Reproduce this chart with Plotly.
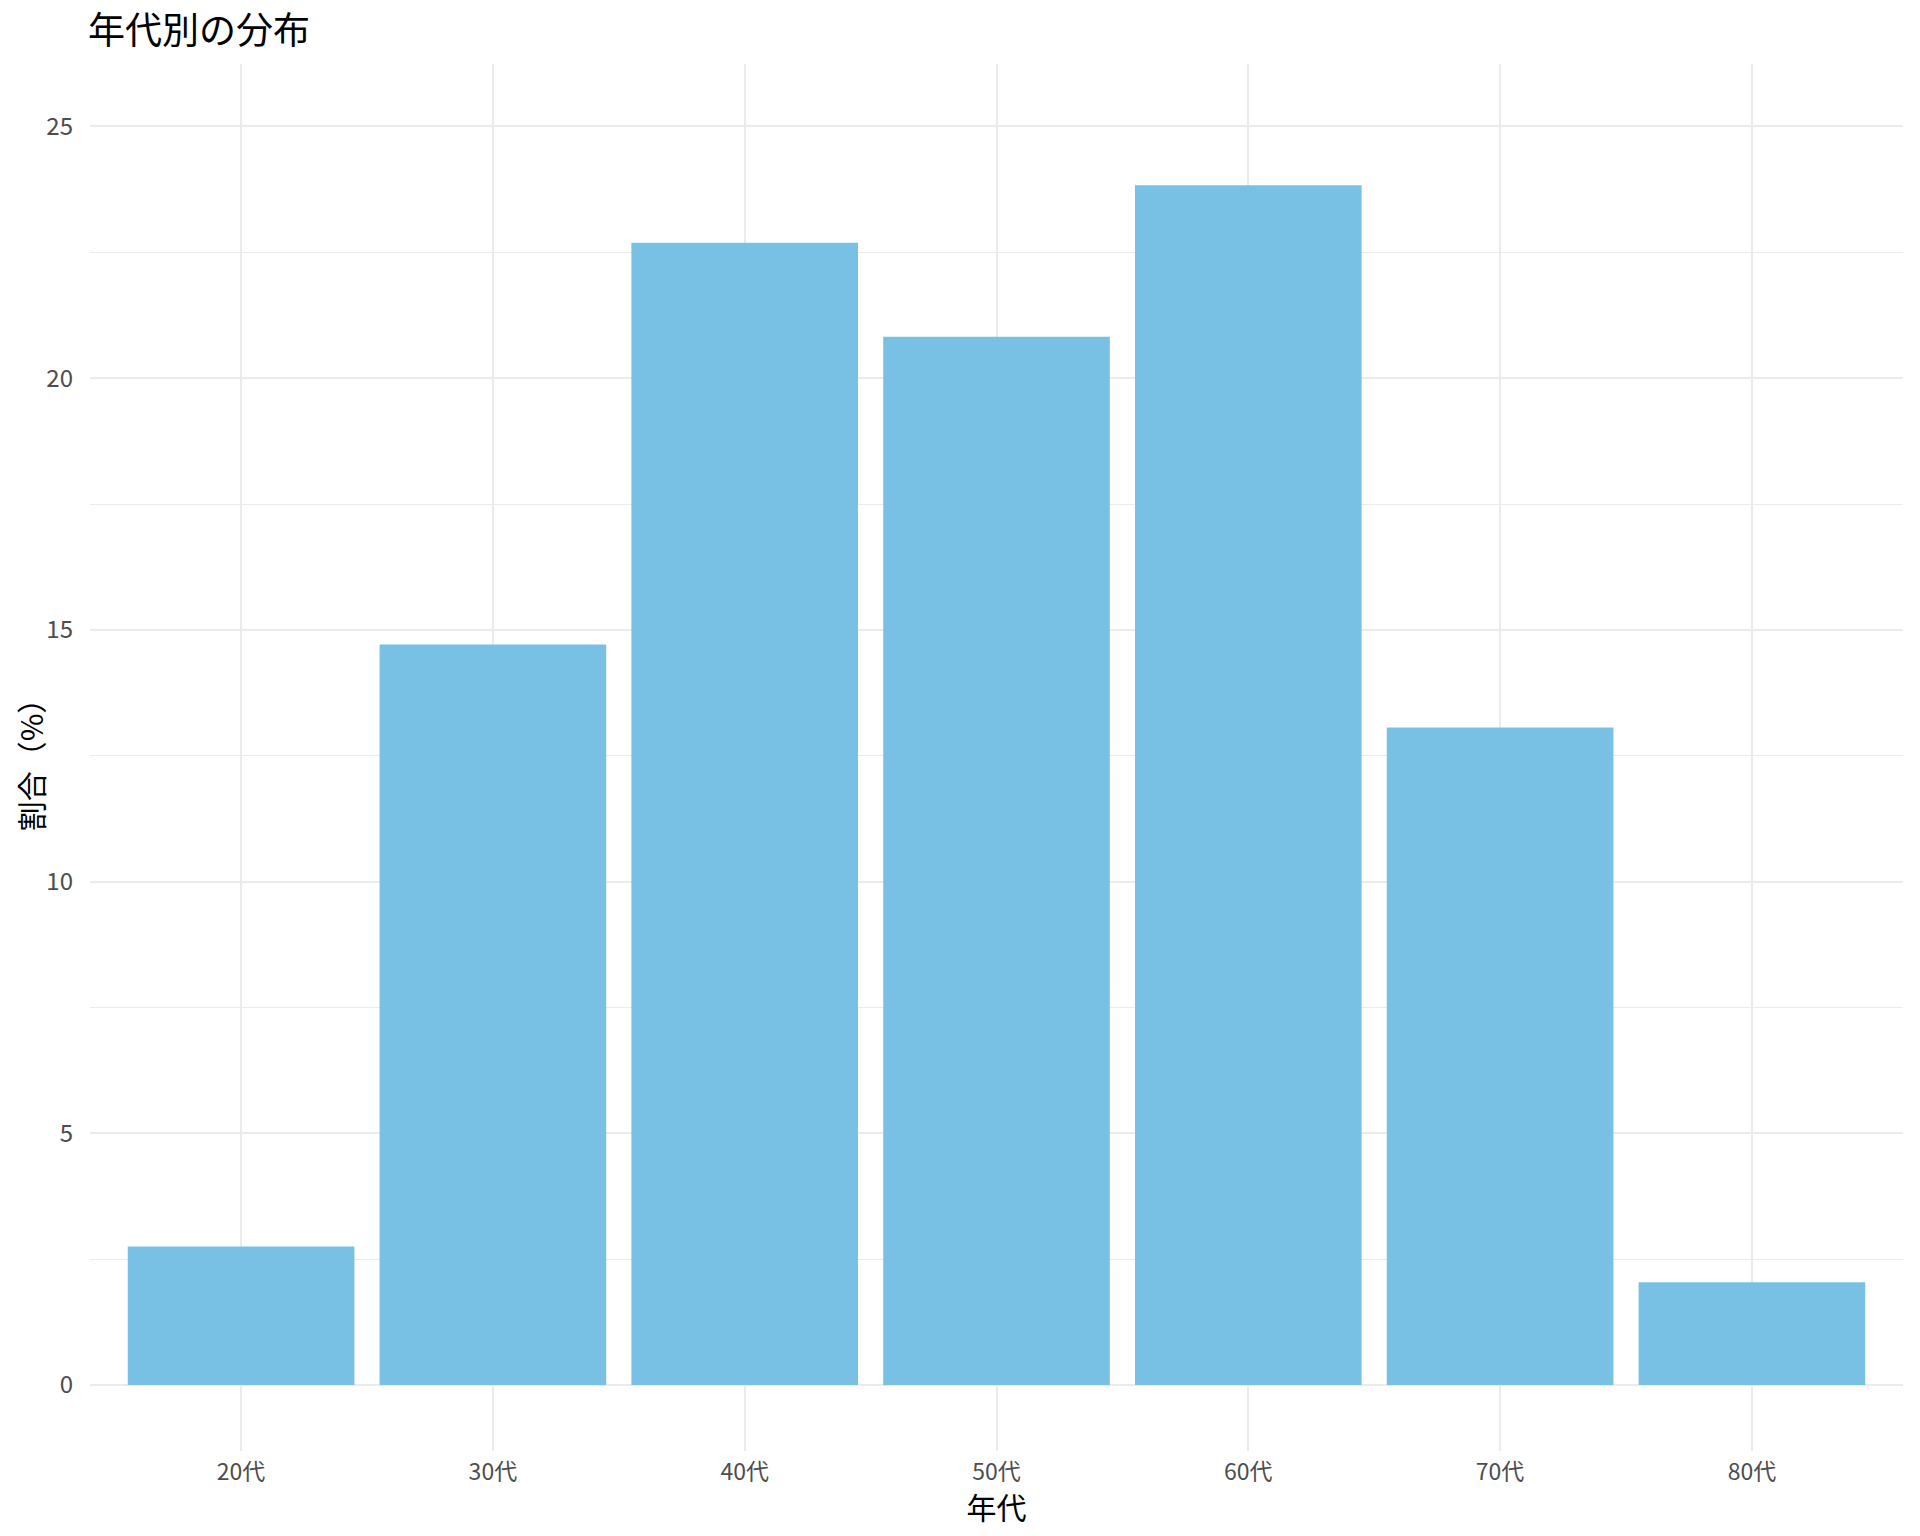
import plotly.graph_objects as go

categories = ["20代", "30代", "40代", "50代", "60代", "70代", "80代"]
values = [2.75, 14.71, 22.69, 20.82, 23.83, 13.06, 2.04]
y_ticks = [0, 5, 10, 15, 20, 25]

FONT = "Noto Sans CJK JP"

# the page body has an 8px margin, so the figure is drawn 8px lower/right
W, H = 1904, 1520

fig = go.Figure()
fig.add_trace(go.Bar(
    x=categories, y=values,
    marker=dict(color="#78C1E4", line=dict(width=0)),
    width=0.9,
))

fig.update_layout(
    width=W, height=H,
    paper_bgcolor="white", plot_bgcolor="white",
    margin=dict(l=80, r=9, t=56, b=77),
    showlegend=False,
    font=dict(family=FONT, color="#000000"),
    title=dict(text="年代別の分布", x=80/W, xanchor="left",
               y=1-23/H, yanchor="middle",
               font=dict(family=FONT, size=37, color="#000000")),
    bargap=0.1,
)
fig.update_xaxes(
    type="category", range=[-0.6, 6.6],
    showgrid=True, gridcolor="#EBEBEB", gridwidth=2,
    showline=False, zeroline=False, ticks="",
    tickfont=dict(family=FONT, size=23, color="#4D4D4D"),
    ticklabelstandoff=5,
    title=dict(text="年代", font=dict(family=FONT, size=30, color="#000000"), standoff=3),
)
fig.update_yaxes(
    range=[-1.31, 26.24],
    tickvals=y_ticks, ticktext=[str(v) for v in y_ticks],
    showgrid=True, gridcolor="#EBEBEB", gridwidth=2,
    minor=dict(tick0=2.5, dtick=5, showgrid=True, gridcolor="#EBEBEB", gridwidth=1),
    showline=False, zeroline=False, ticks="",
    tickfont=dict(family=FONT, size=24, color="#4D4D4D"),
    ticklabelstandoff=16,
    title=dict(text="割合（%）", font=dict(family=FONT, size=30, color="#000000"), standoff=8),
)

fig.write_html("out.html")
